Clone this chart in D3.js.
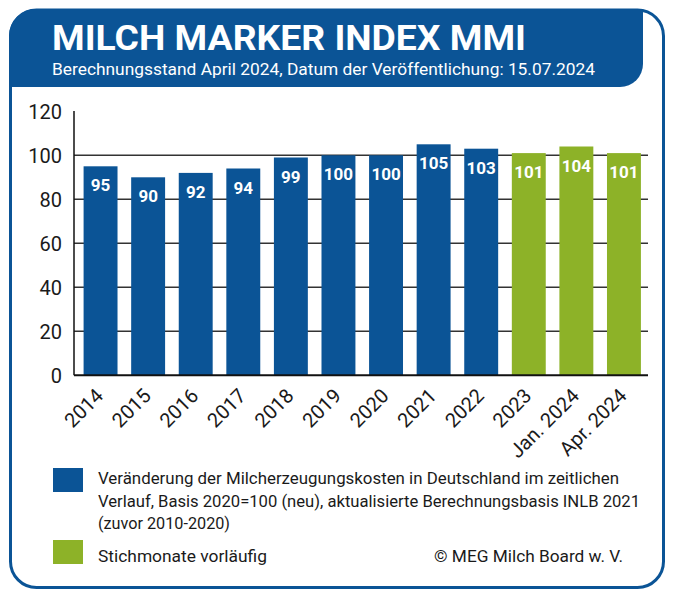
<!DOCTYPE html>
<html><head><meta charset="utf-8">
<script src="https://cdn.jsdelivr.net/npm/d3@7"></script>
<style>
html,body{margin:0;padding:0;background:#fff;}
svg{display:block;font-family:Roboto,"Noto Sans",sans-serif;}
</style></head>
<body><svg id="c" width="674" height="600"></svg>
<script>
const title = "MILCH MARKER INDEX MMI";
const subtitle = "Berechnungsstand April 2024, Datum der Veröffentlichung: 15.07.2024";
const categories = ["2014","2015","2016","2017","2018","2019","2020","2021","2022","2023","Jan. 2024","Apr. 2024"];
const values = [95,90,92,94,99,100,100,105,103,101,104,101];
const provisional = [false,false,false,false,false,false,false,false,false,true,true,true];
const yTicks = [0,20,40,60,80,100,120];
const legendBlueLines = ["Veränderung der Milcherzeugungskosten in Deutschland im zeitlichen",
  "Verlauf, Basis 2020=100 (neu), aktualisierte Berechnungsbasis INLB 2021",
  "(zuvor 2010-2020)"];
const legendGreen = "Stichmonate vorläufig";
const credit = "© MEG Milch Board w. V.";

const BLUE = "#0b5496", GREEN = "#8db228";
const svg = d3.select("#c");

// frame
svg.append("rect").attr("x",10.5).attr("y",10).attr("width",653).attr("height",577.5)
  .attr("rx",26).attr("fill","#fff").attr("stroke",BLUE).attr("stroke-width",3);
// header band
svg.append("path").attr("d","M9,87 V36 A27,27 0 0 1 36,9 H643 V64 A23,23 0 0 1 620,87 Z").attr("fill",BLUE);
svg.append("text").attr("x",52).attr("y",50).attr("fill","#fff").attr("font-weight",700)
  .attr("font-size",35).attr("textLength",474).attr("lengthAdjust","spacingAndGlyphs").text(title);
svg.append("text").attr("x",52).attr("y",75).attr("fill","#fff")
  .attr("font-size",16.5).attr("textLength",543).attr("lengthAdjust","spacingAndGlyphs").text(subtitle);

// scales
const y = d3.scaleLinear().domain([0,120]).range([375.3,111.3]);
const x = d3.scaleBand().domain(categories).range([75.5,649]).paddingInner(0.287).paddingOuter(0.17);
const X0 = 74, X1 = 648;

// grid
svg.append("g").selectAll("line").data(yTicks.filter(t=>t>0&&t<120)).join("line")
  .attr("x1",X0).attr("x2",X1).attr("y1",d=>y(d)).attr("y2",d=>y(d))
  .attr("stroke","#333").attr("stroke-width",1.6);
// y axis labels
svg.append("g").selectAll("text").data(yTicks).join("text")
  .attr("x",62).attr("y",d=>y(d)).attr("dy","0.36em").attr("text-anchor","end")
  .attr("font-size",20).attr("fill","#1a1a1a").text(d=>d);

// bars
svg.append("g").selectAll("rect").data(values).join("rect")
  .attr("x",(d,i)=>x(categories[i])).attr("width",x.bandwidth())
  .attr("y",d=>y(d)).attr("height",d=>y(0)-y(d))
  .attr("fill",(d,i)=>provisional[i]?GREEN:BLUE);
// value labels
svg.append("g").selectAll("text").data(values).join("text")
  .attr("x",(d,i)=>x(categories[i])+x.bandwidth()/2).attr("y",d=>y(d)+25)
  .attr("text-anchor","middle").attr("font-weight",700).attr("font-size",17).attr("fill","#fff")
  .text(d=>d);

// axes lines
svg.append("line").attr("x1",X0).attr("x2",X0).attr("y1",111).attr("y2",y(0))
  .attr("stroke","#111").attr("stroke-width",1.5);
svg.append("line").attr("x1",X0).attr("x2",X1).attr("y1",y(0)).attr("y2",y(0))
  .attr("stroke","#111").attr("stroke-width",2);

// x labels
svg.append("g").selectAll("text").data(categories).join("text")
  .attr("transform",d=>`translate(${x(d)+x.bandwidth()/2+4},${397}) rotate(-45)`)
  .attr("text-anchor","end").attr("font-size",20).attr("fill","#1a1a1a").text(d=>d);

// legend
svg.append("rect").attr("x",53).attr("y",468).attr("width",30).attr("height",24).attr("fill",BLUE);
svg.append("rect").attr("x",53).attr("y",540).attr("width",30).attr("height",24).attr("fill",GREEN);
const lw = [521,542,132];
svg.append("g").selectAll("text").data(legendBlueLines).join("text")
  .attr("x",98).attr("y",(d,i)=>484+i*22.5).attr("font-size",16).attr("fill","#1a1a1a")
  .attr("textLength",(d,i)=>lw[i]).attr("lengthAdjust","spacingAndGlyphs").text(d=>d);
svg.append("text").attr("x",98).attr("y",562).attr("font-size",16).attr("fill","#1a1a1a")
  .attr("textLength",169).attr("lengthAdjust","spacingAndGlyphs").text(legendGreen);
svg.append("text").attr("x",434).attr("y",562).attr("font-size",16).attr("fill","#1a1a1a")
  .attr("textLength",189).attr("lengthAdjust","spacingAndGlyphs").text(credit);
</script></body></html>
